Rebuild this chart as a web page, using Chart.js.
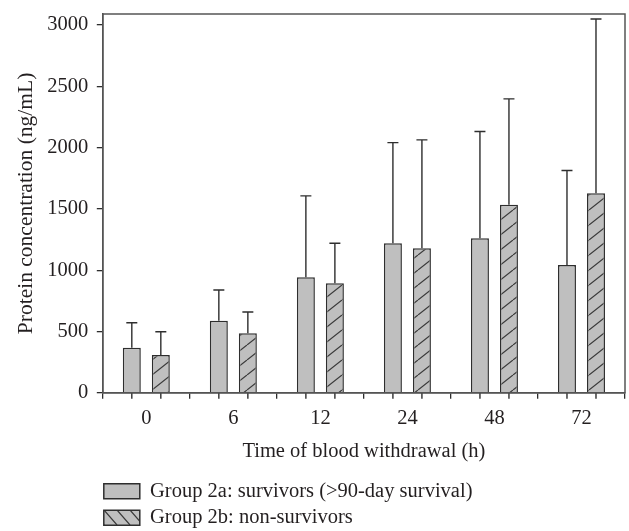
<!DOCTYPE html>
<html>
<head>
<meta charset="utf-8">
<script src="https://cdn.jsdelivr.net/npm/chart.js@4.4.1/dist/chart.umd.min.js"></script>
<style>
  html, body { margin: 0; padding: 0; background: #fff; }
  #wrap { width: 629px; height: 531px; }
</style>
</head>
<body>
<div id="wrap"><canvas id="proteinChart"></canvas></div>
<script>
// data
const hours = ['0', '6', '12', '24', '48', '72'];
const survivorsMean = [367, 588, 942, 1220, 1261, 1043];
const survivorsUpper = [572, 839, 1606, 2041, 2131, 1813];   // top of error bar
const nonSurvivorsMean = [308, 485, 893, 1179, 1533, 1628];
const nonSurvivorsUpper = [498, 659, 1220, 2063, 2398, 3049];
const yTickValues = [0, 500, 1000, 1500, 2000, 2500, 3000];

const textColor = '#231f20';
const barGray = '#bfbfbf';
const lineDark = '#2e2e2e';

Chart.defaults.font.family = "'Liberation Serif', 'Times New Roman', serif";
Chart.defaults.font.size = 20.5;
Chart.defaults.color = textColor;

// diagonal hatch, forward = "/" , otherwise "\"
function makeHatch(w, h, forward) {
    const c = document.createElement('canvas');
    c.width = w;
    c.height = h;
    const g = c.getContext('2d');
    g.fillStyle = barGray;
    g.fillRect(0, 0, w, h);
    g.strokeStyle = '#3a3a3a';
    g.lineWidth = 1.2;
    g.beginPath();
    for (let s = -1; s <= 1; s++) {
        if (forward) {
            g.moveTo(s * w, h);
            g.lineTo(s * w + w, 0);
        } else {
            g.moveTo(s * w, 0);
            g.lineTo(s * w + w, h);
        }
    }
    g.stroke();
    return g.createPattern(c, 'repeat');
}

const barHatch = makeHatch(19, 15, true);
const legendHatch = makeHatch(13, 15, false);
const upperBounds = [survivorsUpper, nonSurvivorsUpper];

// error bars, ticks under each bar, and the box around the plot
const extras = {
    id: 'extras',
    afterDatasetsDraw(chart) {
        const { ctx, chartArea, scales } = chart;
        ctx.save();
        ctx.strokeStyle = lineDark;
        ctx.lineWidth = 1.4;
        chart.data.datasets.forEach((ds, di) => {
            const meta = chart.getDatasetMeta(di);
            meta.data.forEach((bar, i) => {
                const yTop = scales.y.getPixelForValue(upperBounds[di][i]);
                ctx.beginPath();
                ctx.moveTo(bar.x, bar.y);
                ctx.lineTo(bar.x, yTop);
                ctx.moveTo(bar.x - 5.5, yTop);
                ctx.lineTo(bar.x + 5.5, yTop);
                ctx.moveTo(bar.x, chartArea.bottom);
                ctx.lineTo(bar.x, chartArea.bottom + 6);
                ctx.stroke();
            });
        });
        ctx.strokeStyle = '#555';
        ctx.lineWidth = 1.5;
        ctx.strokeRect(chartArea.left, chartArea.top, chartArea.width, chartArea.height);
        ctx.restore();
    }
};

// legend sits under the plot, flush with the y axis
const legendNudge = {
    id: 'legendNudge',
    afterLayout(chart) {
        const lg = chart.legend;
        lg.left -= 5;
        lg.right -= 5;
        lg.top += 7;
        lg.bottom += 7;
    }
};

const ctx = document.getElementById('proteinChart').getContext('2d');

new Chart(ctx, {
    type: 'bar',
    data: {
        labels: hours,
        datasets: [
            {
                label: 'Group 2a: survivors (>90-day survival)',
                data: survivorsMean,
                backgroundColor: barGray,
                borderColor: lineDark,
                borderWidth: 1.5
            },
            {
                label: 'Group 2b: non-survivors',
                data: nonSurvivorsMean,
                backgroundColor: barHatch,
                borderColor: lineDark,
                borderWidth: 1.5
            }
        ]
    },
    options: {
        responsive: true,
        maintainAspectRatio: false,
        animation: false,
        barPercentage: 0.62,
        categoryPercentage: 2 / 3,
        layout: { padding: { top: 14, right: 4, left: 1, bottom: 0 } },
        plugins: {
            tooltip: { enabled: false },
            legend: {
                position: 'bottom',
                align: 'start',
                fullSize: false,
                labels: {
                    boxWidth: 36,
                    boxHeight: 15,
                    padding: 6,
                    color: textColor,
                    generateLabels: (chart) => {
                        const items = Chart.defaults.plugins.legend.labels.generateLabels(chart);
                        items[1].fillStyle = legendHatch;
                        return items;
                    }
                }
            }
        },
        scales: {
            x: {
                grid: { drawOnChartArea: false, tickLength: 6, color: lineDark, lineWidth: 1.3 },
                border: { color: '#444', width: 1.5 },
                ticks: { padding: 8, color: textColor },
                title: {
                    display: true,
                    text: 'Time of blood withdrawal (h)',
                    color: textColor,
                    padding: { top: 0, bottom: 4 }
                }
            },
            y: {
                min: 0,
                max: 3090,
                afterBuildTicks: (axis) => {
                    axis.ticks = yTickValues.map(v => ({ value: v }));
                },
                afterFit: (axis) => {
                    // the 3000 label is well below the frame, no room needed above it
                    axis.paddingTop = 0;
                },
                grid: { drawOnChartArea: false, tickLength: 6, color: lineDark, lineWidth: 1.3 },
                border: { color: '#444', width: 1.5 },
                ticks: { padding: 8.5, color: textColor, callback: (v) => String(v) },
                title: {
                    display: true,
                    text: 'Protein concentration (ng/mL)',
                    color: textColor,
                    font: { size: 21.5 },
                    padding: { top: 12, bottom: 0 }
                }
            }
        }
    },
    plugins: [extras, legendNudge]
});
</script>
</body>
</html>
